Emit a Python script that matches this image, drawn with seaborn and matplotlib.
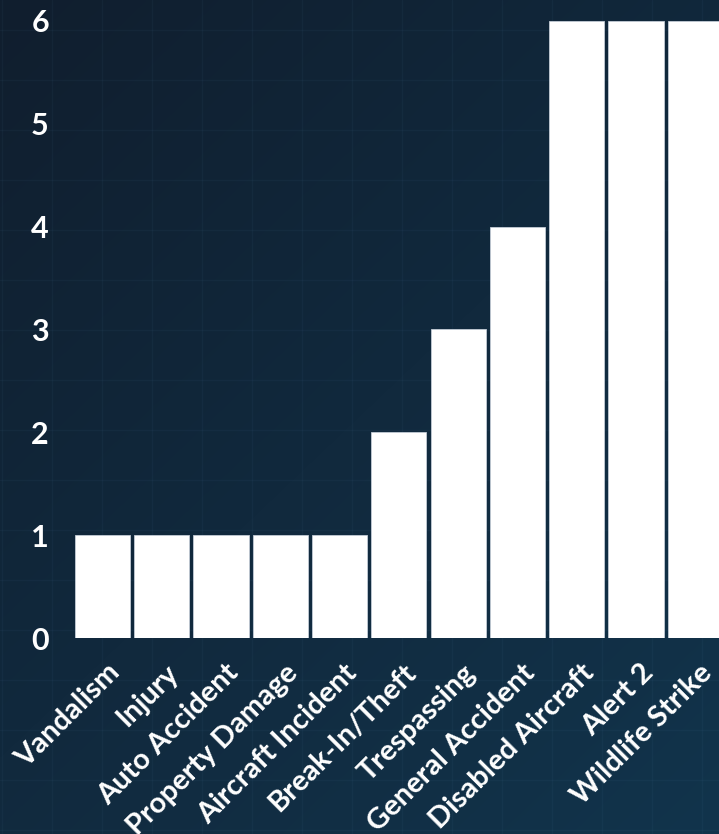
import matplotlib
matplotlib.use('Agg')
import matplotlib.pyplot as plt
import matplotlib.transforms as mtransforms
import seaborn as sns
import numpy as np
import pandas as pd

categories = ['Vandalism', 'Injury', 'Auto Accident', 'Property Damage', 'Aircraft Incident',
              'Break-In/Theft', 'Trespassing', 'General Accident', 'Disabled Aircraft',
              'Alert 2', 'Wildlife Strike']
counts = [1, 1, 1, 1, 1, 2, 3, 4, 6, 6, 6]
y_ticks = [0, 1, 2, 3, 4, 5, 6]

df = pd.DataFrame({'category': categories, 'count': counts})

sns.set_theme(style='white')
plt.rcParams['font.family'] = ['Lato', 'DejaVu Sans']

W, H = 719, 834
fig = plt.figure(figsize=(W / 100, H / 100), dpi=100)

# background: dark navy gradient with a faint blueprint grid
bg = fig.add_axes([0, 0, 1, 1], zorder=0)
gx, gy = np.meshgrid(np.linspace(0, 1, 300), np.linspace(0, 1, 300))
t = np.clip(0.45 * gx + 0.55 * gy, 0, 1)[..., None]
c0 = np.array([16, 30, 46]) / 255
c1 = np.array([18, 52, 76]) / 255
bg.imshow(c0 + (c1 - c0) * t, aspect='auto', extent=[0, W, H, 0], interpolation='bilinear')
for x in np.arange(2, W, 50):
    bg.axvline(x, color='#5a8cb4', alpha=0.06, lw=1)
for y in np.arange(30, H, 50):
    bg.axhline(y, color='#5a8cb4', alpha=0.06, lw=1)
bg.set_xlim(0, W)
bg.set_ylim(H, 0)
bg.axis('off')

ax = fig.add_axes([60 / W, 196 / H, (W - 60) / W, 638 / H], zorder=1)
ax.patch.set_alpha(0)
sns.barplot(data=df, x='category', y='count', color='white', saturation=1, width=0.93,
            edgecolor='#c3ccd6', linewidth=0.6, ax=ax)

ax.set_xlim(-0.717, 10.40)
ax.set_ylim(0, 6.204)
ax.set_yticks(y_ticks)
ax.set_yticklabels([str(v) for v in y_ticks])
ax.set_xlabel('')
ax.set_ylabel('')
sns.despine(ax=ax, left=True, bottom=True)

ax.tick_params(axis='y', colors='white', labelsize=22, length=0, pad=8)
ax.tick_params(axis='x', colors='white', labelsize=21, length=0, pad=22)
for lbl in ax.get_yticklabels():
    lbl.set_fontweight('bold')
offset = mtransforms.ScaledTranslation(13 / 100, 0, fig.dpi_scale_trans)
for lbl in ax.get_xticklabels():
    lbl.set_rotation(45)
    lbl.set_ha('right')
    lbl.set_va('center')
    lbl.set_rotation_mode('anchor')
    lbl.set_fontweight('bold')
    lbl.set_transform(lbl.get_transform() + offset)

fig.savefig('out.png', dpi=100)
